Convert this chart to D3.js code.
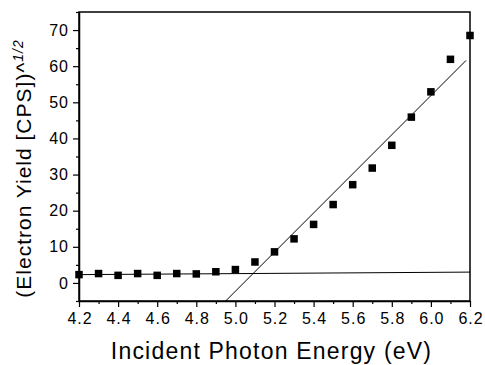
<!DOCTYPE html>
<html>
<head>
<meta charset="utf-8">
<script src="https://cdn.jsdelivr.net/npm/d3@7"></script>
<style>
  body { margin: 0; background: #fff; }
  svg { font-family: "Liberation Sans", Arial, sans-serif; }
</style>
</head>
<body>
<svg width="485" height="365"></svg>
<script>
const energy = [4.2, 4.3, 4.4, 4.5, 4.6, 4.7, 4.8, 4.9, 5.0, 5.1, 5.2, 5.3, 5.4, 5.5, 5.6, 5.7, 5.8, 5.9, 6.0, 6.1, 6.2];
const yieldRoot = [2.3, 2.6, 2.1, 2.6, 2.1, 2.6, 2.5, 3.1, 3.7, 5.8, 8.6, 12.2, 16.2, 21.7, 27.2, 31.8, 38.1, 45.9, 52.9, 61.9, 68.5];
const baseLine = [[4.2, 2.3], [6.2, 3.0]];
const fitLine = [[4.95, -5], [6.18, 61.6]];
const xTicks = [4.2, 4.4, 4.6, 4.8, 5.0, 5.2, 5.4, 5.6, 5.8, 6.0, 6.2];
const yTicks = [0, 10, 20, 30, 40, 50, 60, 70];

const width = 485, height = 365;
const margin = { top: 12, right: 15, bottom: 64, left: 79 };

const svg = d3.select("svg");

const x = d3.scaleLinear().domain([4.2, 6.2]).range([margin.left, width - margin.right]);
const y = d3.scaleLinear().domain([-5, 75]).range([height - margin.bottom, margin.top]);

const line = d3.line().x(d => x(d[0])).y(d => y(d[1]));

// fit lines
svg.append("path").datum(baseLine).attr("d", line)
  .attr("fill", "none").attr("stroke", "#000").attr("stroke-width", 1);
svg.append("path").datum(fitLine).attr("d", line)
  .attr("fill", "none").attr("stroke", "#000").attr("stroke-width", 1);

// points
const s = 7.5;
svg.append("g")
  .selectAll("rect")
  .data(energy.map((e, i) => [e, yieldRoot[i]]))
  .join("rect")
  .attr("x", d => x(d[0]) - s / 2)
  .attr("y", d => y(d[1]) - s / 2)
  .attr("width", s)
  .attr("height", s)
  .attr("fill", "#000");

// frame
svg.append("rect")
  .attr("x", margin.left).attr("y", margin.top)
  .attr("width", width - margin.left - margin.right)
  .attr("height", height - margin.top - margin.bottom)
  .attr("fill", "none").attr("stroke", "#000").attr("stroke-width", 1.5);

// x axis
const xAxis = svg.append("g")
  .attr("transform", `translate(0,${height - margin.bottom})`)
  .call(d3.axisBottom(x).tickValues(xTicks).tickFormat(d3.format(".1f")).tickSize(6).tickSizeOuter(0));
svg.append("g")
  .attr("transform", `translate(0,${height - margin.bottom})`)
  .call(d3.axisBottom(x).tickValues(d3.range(4.3, 6.2, 0.2)).tickFormat("").tickSize(3).tickSizeOuter(0))
  .call(g => g.select(".domain").remove());

// y axis
const yAxis = svg.append("g")
  .attr("transform", `translate(${margin.left},0)`)
  .call(d3.axisLeft(y).tickValues(yTicks).tickSize(6).tickPadding(4).tickSizeOuter(0));
svg.append("g")
  .attr("transform", `translate(${margin.left},0)`)
  .call(d3.axisLeft(y).tickValues([-5, 5, 15, 25, 35, 45, 55, 65, 75]).tickFormat("").tickSize(3).tickSizeOuter(0))
  .call(g => g.select(".domain").remove());

svg.selectAll(".domain").attr("stroke-width", 1.5);
svg.selectAll(".tick line").attr("stroke-width", 1.2);
svg.selectAll(".tick text")
  .attr("font-size", 16)
  .attr("letter-spacing", 1)
  .attr("font-family", "Liberation Sans, Arial, sans-serif");
xAxis.selectAll(".tick text").attr("dy", "0.9em").attr("dx", 0.5);

// axis titles
svg.append("text")
  .attr("x", (margin.left + width - margin.right) / 2 - 3)
  .attr("y", 359)
  .attr("text-anchor", "middle")
  .attr("font-size", 23)
  .attr("letter-spacing", 1.2)
  .text("Incident Photon Energy (eV)");

const yt = svg.append("text")
  .attr("transform", `translate(31,${(margin.top + height - margin.bottom) / 2 + 12}) rotate(-90)`)
  .attr("text-anchor", "middle")
  .attr("font-size", 21)
  .attr("letter-spacing", 1);
yt.append("tspan").text("(Electron Yield [CPS])^");
yt.append("tspan").attr("font-size", 14).attr("font-style", "italic").attr("dy", -8).text("1/2");
</script>
</body>
</html>
